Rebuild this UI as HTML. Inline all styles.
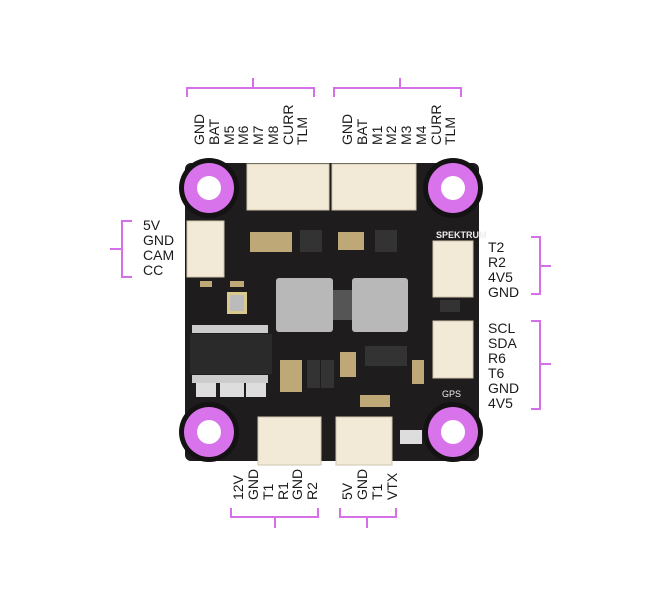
<!DOCTYPE html>
<html><head><meta charset="utf-8"><style>
html,body{margin:0;padding:0;background:#fff}
svg{display:block}
text{font-family:"Liberation Sans",sans-serif;font-size:14px;fill:#1a1a1a}
</style></head><body>
<svg width="657" height="600" viewBox="0 0 657 600" xmlns="http://www.w3.org/2000/svg">
<!-- board -->
<rect x="185" y="163" width="294" height="298" rx="6" fill="#1e1c1d"/>
<g fill="#141213">
<circle cx="209" cy="188" r="30"/><circle cx="453" cy="188" r="30"/>
<circle cx="209" cy="432" r="30"/><circle cx="453" cy="432" r="30"/>
</g>
<!-- mounting holes -->
<g>
<circle cx="209" cy="188" r="25" fill="#d873ec"/><circle cx="209" cy="188" r="12" fill="#fff"/>
<circle cx="453" cy="188" r="25" fill="#d873ec"/><circle cx="453" cy="188" r="12" fill="#fff"/>
<circle cx="209" cy="432" r="25" fill="#d873ec"/><circle cx="209" cy="432" r="12" fill="#fff"/>
<circle cx="453" cy="432" r="25" fill="#d873ec"/><circle cx="453" cy="432" r="12" fill="#fff"/>
</g>
<!-- connectors -->
<g fill="#f2ead6" stroke="#cfc5ad" stroke-width="1">
<rect x="247" y="164" width="82" height="46"/>
<rect x="332" y="164" width="84" height="46"/>
<rect x="187" y="221" width="37" height="56"/>
<rect x="433" y="241" width="40" height="56"/>
<rect x="433" y="321" width="40" height="57"/>
<rect x="258" y="417" width="63" height="48"/>
<rect x="336" y="417" width="56" height="48"/>
</g>
<!-- MCUs -->
<rect x="276" y="278" width="57" height="54" rx="3" fill="#b8b8b8"/>
<rect x="352" y="278" width="56" height="54" rx="3" fill="#b8b8b8"/>
<rect x="333" y="290" width="19" height="30" fill="#555"/>
<!-- chip -->
<rect x="190" y="334" width="82" height="40" fill="#2b2a2a"/>
<g fill="#ccc"><rect x="192" y="325" width="76" height="8"/><rect x="192" y="375" width="76" height="8"/></g>
<rect x="227" y="292" width="20" height="22" fill="#d9c98c"/><rect x="230" y="295" width="14" height="16" fill="#bbb"/>
<!-- small components -->
<g fill="#bfa878">
<rect x="250" y="232" width="42" height="20"/><rect x="338" y="232" width="26" height="18"/>
<rect x="280" y="360" width="22" height="32"/><rect x="340" y="352" width="16" height="25"/>
<rect x="360" y="395" width="30" height="12"/><rect x="412" y="360" width="12" height="24"/>
<rect x="200" y="281" width="12" height="6"/><rect x="230" y="281" width="14" height="6"/>
</g>
<g fill="#333"><rect x="300" y="230" width="22" height="22"/><rect x="375" y="230" width="22" height="22"/>
<rect x="365" y="346" width="42" height="20"/><rect x="307" y="360" width="13" height="28"/><rect x="321" y="360" width="13" height="28"/>
<rect x="440" y="300" width="20" height="12"/></g>
<g fill="#ddd"><rect x="196" y="383" width="20" height="14"/><rect x="220" y="383" width="24" height="14"/><rect x="246" y="383" width="20" height="14"/>
<rect x="400" y="430" width="22" height="14"/></g>
<text x="436" y="238" style="font-size:9px;fill:#eee;font-weight:bold">SPEKTRUM</text>
<text x="442" y="397" style="font-size:9px;fill:#eee">GPS</text>
<!-- brackets -->
<g stroke="#d670e9" stroke-width="2" fill="none">
<path d="M187 97 V88 H314 V97 M253 88 V78"/>
<path d="M334 97 V88 H461 V97 M400 88 V78"/>
<path d="M231 508 V517 H318 V508 M275 517 V528"/>
<path d="M340 508 V517 H396 V508 M367 517 V528"/>
<path d="M132 221 H122 V277 H132 M122 249 H110"/>
<path d="M531 237 H540 V294 H531 M540 266 H551"/>
<path d="M531 321 H540 V409 H531 M540 364 H551"/>
</g>
<!-- top labels -->
<g>
<text transform="translate(204,145) rotate(-90)">GND</text>
<text transform="translate(219,145) rotate(-90)">BAT</text>
<text transform="translate(234,145) rotate(-90)">M5</text>
<text transform="translate(248,145) rotate(-90)">M6</text>
<text transform="translate(263,145) rotate(-90)">M7</text>
<text transform="translate(278,145) rotate(-90)">M8</text>
<text transform="translate(293,145) rotate(-90)">CURR</text>
<text transform="translate(307,145) rotate(-90)">TLM</text>
<text transform="translate(352,145) rotate(-90)">GND</text>
<text transform="translate(367,145) rotate(-90)">BAT</text>
<text transform="translate(382,145) rotate(-90)">M1</text>
<text transform="translate(396,145) rotate(-90)">M2</text>
<text transform="translate(411,145) rotate(-90)">M3</text>
<text transform="translate(426,145) rotate(-90)">M4</text>
<text transform="translate(441,145) rotate(-90)">CURR</text>
<text transform="translate(455,145) rotate(-90)">TLM</text>
</g>
<!-- bottom labels -->
<g>
<text transform="translate(243,500) rotate(-90)">12V</text>
<text transform="translate(258,500) rotate(-90)">GND</text>
<text transform="translate(273,500) rotate(-90)">T1</text>
<text transform="translate(288,500) rotate(-90)">R1</text>
<text transform="translate(302,500) rotate(-90)">GND</text>
<text transform="translate(317,500) rotate(-90)">R2</text>
<text transform="translate(352,500) rotate(-90)">5V</text>
<text transform="translate(367,500) rotate(-90)">GND</text>
<text transform="translate(382,500) rotate(-90)">T1</text>
<text transform="translate(397,500) rotate(-90)">VTX</text>
</g>
<!-- left labels -->
<text x="143" y="230">5V</text>
<text x="143" y="245">GND</text>
<text x="143" y="260">CAM</text>
<text x="143" y="275">CC</text>
<!-- right labels -->
<text x="488" y="252">T2</text>
<text x="488" y="267">R2</text>
<text x="488" y="282">4V5</text>
<text x="488" y="297">GND</text>
<text x="488" y="333">SCL</text>
<text x="488" y="348">SDA</text>
<text x="488" y="363">R6</text>
<text x="488" y="378">T6</text>
<text x="488" y="393">GND</text>
<text x="488" y="408">4V5</text>
</svg>
</body></html>
